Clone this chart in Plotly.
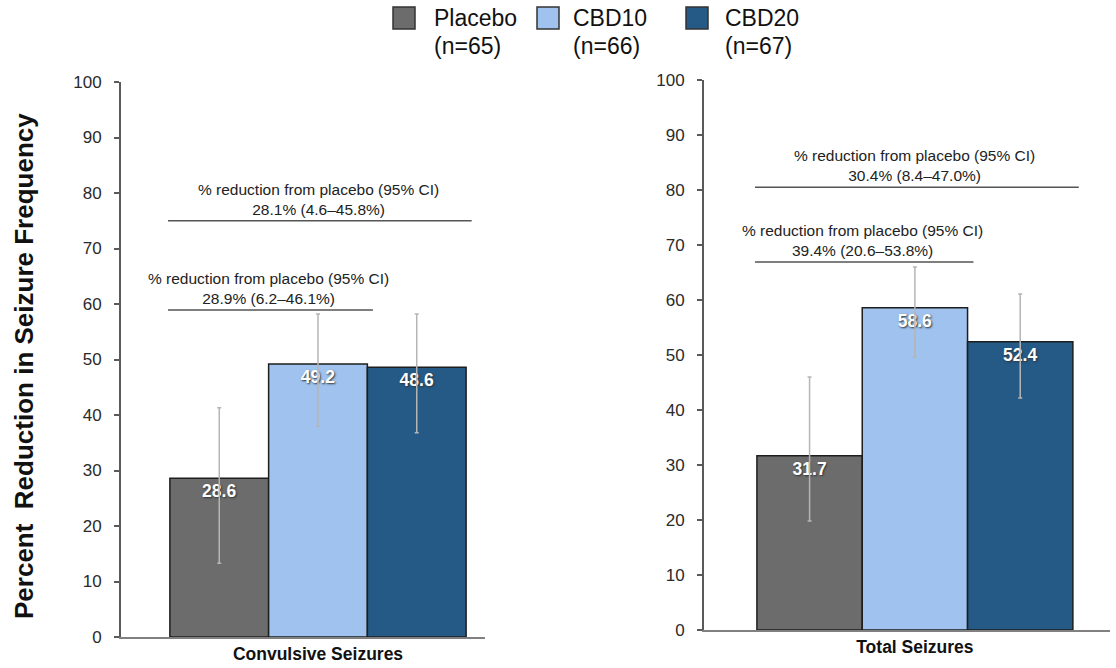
import plotly.graph_objects as go
from plotly.subplots import make_subplots

# ---------------- data ----------------
categories = ["Convulsive Seizures", "Total Seizures"]
groups = ["Placebo", "CBD10", "CBD20"]
group_n = [65, 66, 67]
colors = ["#6b6c6b", "#9fc3ee", "#245a85"]

placebo_mean = [28.6, 31.7]
cbd10_mean = [49.2, 58.6]
cbd20_mean = [48.6, 52.4]
means = [placebo_mean, cbd10_mean, cbd20_mean]

placebo_ci_low = [13.3, 19.8]
cbd10_ci_low = [38.0, 49.6]
cbd20_ci_low = [36.8, 42.2]
ci_low = [placebo_ci_low, cbd10_ci_low, cbd20_ci_low]

placebo_ci_high = [41.3, 46.0]
cbd10_ci_high = [58.2, 66.0]
cbd20_ci_high = [58.2, 61.1]
ci_high = [placebo_ci_high, cbd10_ci_high, cbd20_ci_high]

# comparisons vs placebo: (panel, comparator group index, text, bracket level)
comp_panel = [0, 0, 1, 1]
comp_group = [2, 1, 2, 1]
comp_text = ["28.1% (4.6–45.8%)", "28.9% (6.2–46.1%)",
             "30.4% (8.4–47.0%)", "39.4% (20.6–53.8%)"]
comp_level = [75.0, 58.9, 80.5, 66.9]
comp_header = "% reduction from placebo (95% CI)"

y_ticks = list(range(0, 101, 10))

# ---------------- figure ----------------
FONT = "Liberation Sans, Arial, sans-serif"
W, H = 1116, 668
bargap = 0.2
gw = 1 - bargap
bw = gw / len(groups)


def px(x):
    return x / W


def py(y):
    return 1 - y / H


fig = make_subplots(rows=1, cols=2)

for p, cat in enumerate(categories):
    for g, name in enumerate(groups):
        m = means[g][p]
        fig.add_trace(
            go.Bar(
                x=[cat], y=[m], name=name, showlegend=False,
                marker=dict(color=colors[g], line=dict(color="#1e1e1e", width=1.5)),
                text=[f"{m:.1f}"], textposition="inside", insidetextanchor="end",
                textangle=0, constraintext="none",
                textfont=dict(family=FONT, size=17.5, color="white", weight="bold",
                              shadow="1px 1px 2px #333333"),
                error_y=dict(type="data", symmetric=False,
                             array=[ci_high[g][p] - m], arrayminus=[m - ci_low[g][p]],
                             color="#b5b5b5", thickness=1.5, width=2),
                offsetgroup=str(g),
            ),
            row=1, col=p + 1,
        )

# manual legend (large square swatches, two-line labels)
legend_sq_x = [393, 537, 686]
legend_tx_x = [432, 571, 723]
for g, name in enumerate(groups):
    fig.add_shape(type="rect", xref="paper", yref="paper",
                  x0=px(legend_sq_x[g]), x1=px(legend_sq_x[g] + 22),
                  y0=py(29), y1=py(7),
                  fillcolor=colors[g], line=dict(color="#333333", width=1.5))
    fig.add_annotation(xref="paper", yref="paper", x=px(legend_tx_x[g]), y=py(18),
                       text=name, showarrow=False, xanchor="left", yanchor="middle",
                       font=dict(family=FONT, size=23, color="#111111"))
    fig.add_annotation(xref="paper", yref="paper", x=px(legend_tx_x[g]), y=py(46),
                       text=f"(n={group_n[g]})", showarrow=False, xanchor="left",
                       yanchor="middle", font=dict(family=FONT, size=23, color="#111111"))

# brackets + annotations
for i in range(len(comp_panel)):
    p = comp_panel[i]
    xref = "x" if p == 0 else "x2"
    yref = "y" if p == 0 else "y2"
    x0 = -gw / 2
    x1 = -gw / 2 + bw * (comp_group[i] + 1)
    lvl = comp_level[i]
    fig.add_shape(type="line", xref=xref, yref=yref, x0=x0 - 0.005, x1=x1 + 0.015,
                  y0=lvl, y1=lvl, line=dict(color="#555555", width=1.5))
    fig.add_annotation(xref=xref, yref=yref, x=(x0 + x1) / 2, y=lvl,
                       text=f"{comp_header}<br>{comp_text[i]}", showarrow=False,
                       yanchor="bottom", yshift=1,
                       font=dict(family=FONT, size=15.5, color="#222222"))

# y-axis title
fig.add_annotation(xref="paper", yref="paper", x=px(24), y=py(366),
                   text="<b>Percent  Reduction in Seizure Frequency</b>",
                   textangle=-90, showarrow=False, xanchor="center", yanchor="middle",
                   font=dict(family=FONT, size=26, color="#111111"))

xcommon = dict(showgrid=False, zeroline=False, showline=True, linecolor="#808080",
               linewidth=1.5, ticks="", automargin=False,
               tickfont=dict(family=FONT, size=17.5, color="#111111", weight="bold"))
ycommon = dict(showgrid=False, zeroline=False, showline=True, linecolor="#5a5a5a",
               linewidth=2, ticks="outside", ticklen=5, tickcolor="#5a5a5a", tickwidth=1.5,
               range=[0, 100], tickvals=y_ticks, automargin=False, ticklabelstandoff=9,
               tickfont=dict(family=FONT, size=17, color="#2a2a2a"))

fig.update_layout(
    width=W, height=H,
    margin=dict(l=0, r=0, t=0, b=0),
    paper_bgcolor="white", plot_bgcolor="white",
    barmode="group", bargap=bargap, bargroupgap=0,
    font=dict(family=FONT, color="#222222"),
    showlegend=False,
    xaxis=dict(**xcommon, domain=[px(121), px(485)], range=[-0.532, 0.451]),
    xaxis2=dict(**xcommon, domain=[px(704), px(1110)], range=[-0.534, 0.494]),
    yaxis=dict(**ycommon, domain=[py(637), py(82)]),
    yaxis2=dict(**ycommon, domain=[py(630), py(80)]),
)

fig.write_html("out.html", config={"displayModeBar": False},
               post_script="document.body.style.margin='0px';document.body.style.overflow='hidden';")
